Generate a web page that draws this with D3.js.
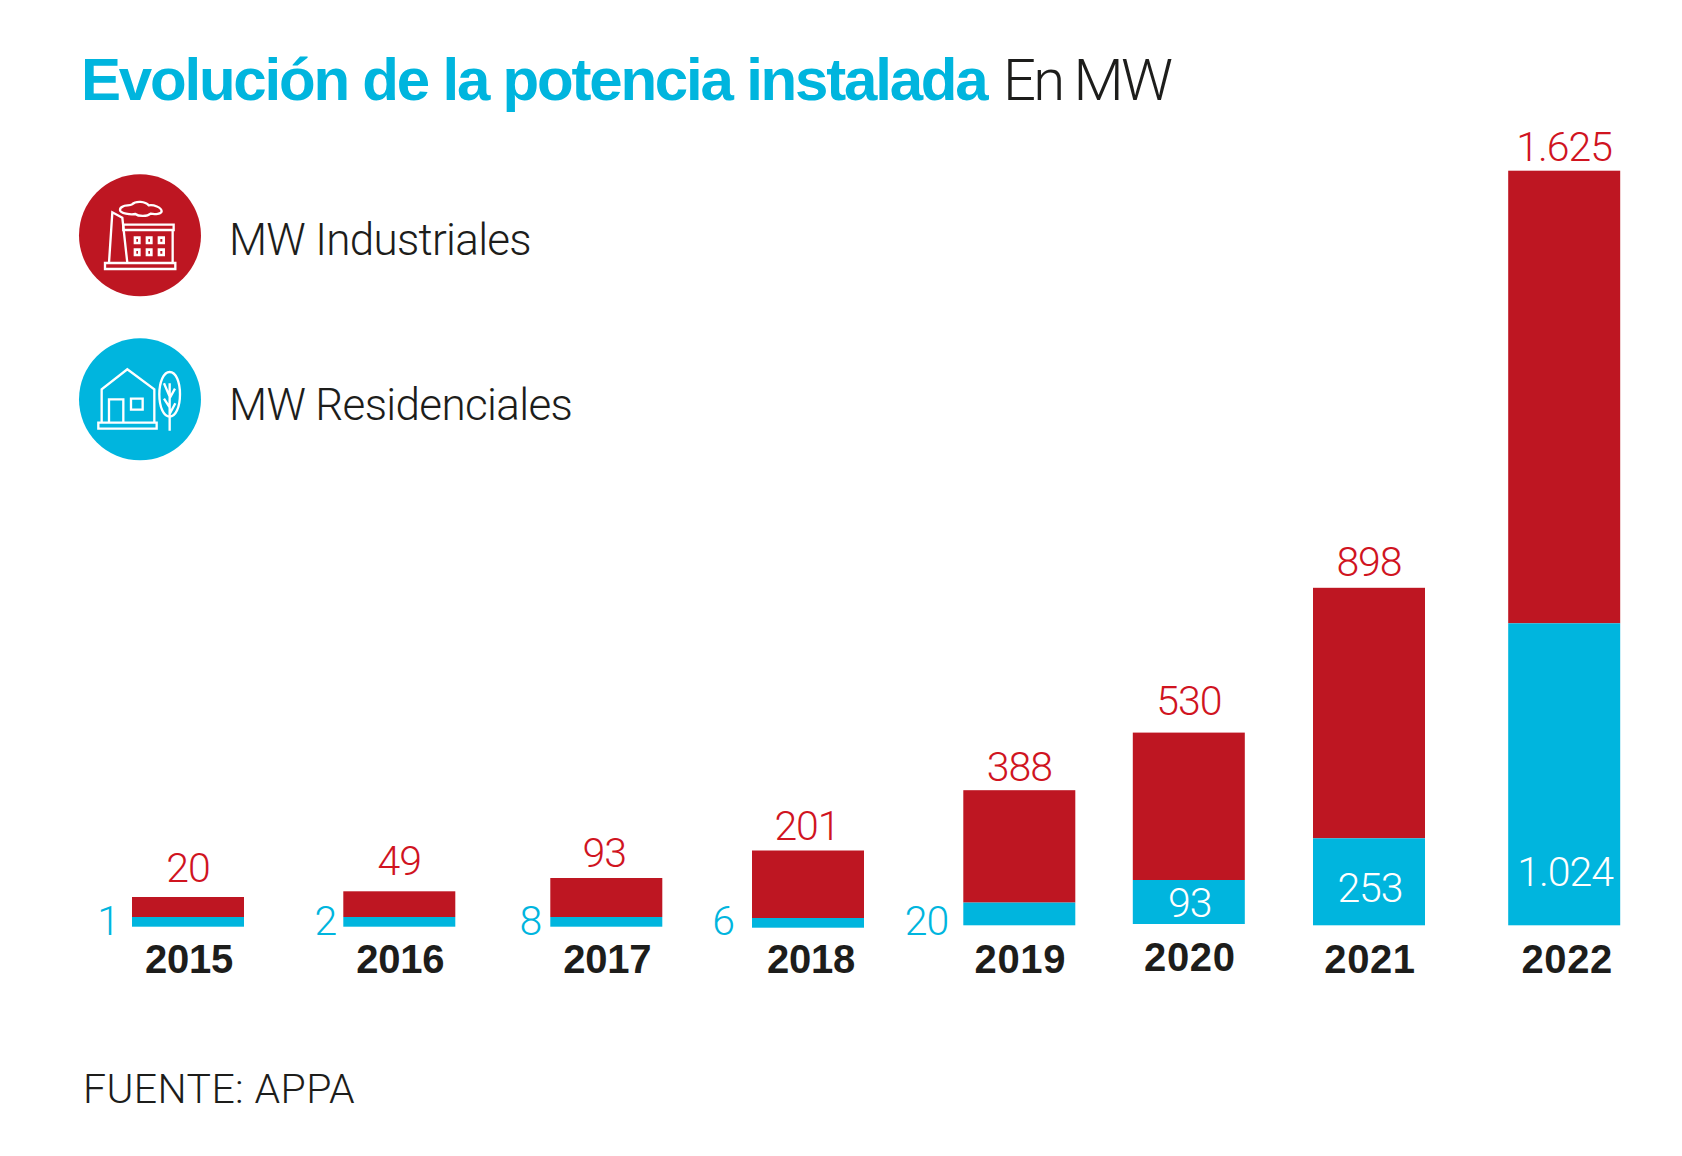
<!DOCTYPE html>
<html>
<head>
<meta charset="utf-8">
<style>
  html, body { margin: 0; padding: 0; background: #fff; }
  text { font-family: "Liberation Sans", sans-serif; }
  .light { font-family: Roboto, "Liberation Sans", sans-serif; font-weight: 300; }
</style>
<script src="https://cdn.jsdelivr.net/npm/d3@7"></script>
</head>
<body>
<div id="chart"></div>
<script>
var years = ["2015", "2016", "2017", "2018", "2019", "2020", "2021", "2022"];
var industriales = [20, 49, 93, 201, 388, 530, 898, 1625];
var residenciales = [1, 2, 8, 6, 20, 93, 253, 1024];
var labelsIndustriales = ["20", "49", "93", "201", "388", "530", "898", "1.625"];
var labelsResidenciales = ["1", "2", "8", "6", "20", "93", "253", "1.024"];

var width = 1682, height = 1156;
var red = "#be1622", blue = "#00b5de", redText = "#d0141f", ink = "#1d1d1b";

var svg = d3.select("#chart").append("svg")
    .attr("width", width)
    .attr("height", height)
    .style("display", "block");

// columns are not evenly spaced in the original, so x is an ordinal scale
var x = d3.scaleOrdinal().domain(years)
    .range([132, 343.3, 550.3, 752, 963.3, 1132.8, 1313, 1508.2]);
var barWidth = 112;

// bars are not linear either: small values were drawn bigger than they should be
var hInd = d3.scaleLinear()
    .domain([20, 49, 93, 201, 388, 530, 898, 1625])
    .range([20, 25.7, 39, 67.5, 112.4, 147.4, 250.5, 452.6]);
var hRes = d3.scaleLinear()
    .domain([1, 8, 20, 93, 253, 1024])
    .range([9.7, 9.7, 22.7, 44, 87, 302]);

var baseline = 926.7;
var nudge = {"2018": 1, "2019": -1.4, "2020": -2.7, "2021": -1.4, "2022": -1.4};
var redGap = {"2015": 15, "2016": 16, "2017": 11, "2018": 11, "2019": 9, "2020": 18, "2021": 12, "2022": 10};
var redShift = {"2017": -2, "2018": -1};
var sideGap = {"2015": 13, "2016": 7, "2017": 9, "2018": 18, "2019": 15};
var insideY = {"2020": 917.3, "2021": 901.7, "2022": 886};
var yearShift = {"2018": 2, "2022": 2};

var rows = years.map(function(y, i) {
  var base = baseline + (nudge[y] || 0);
  return {
    year: y,
    base: base,
    split: base - hRes(residenciales[i]),
    top: base - hRes(residenciales[i]) - hInd(industriales[i]),
    ind: labelsIndustriales[i],
    res: labelsResidenciales[i]
  };
});

// title
svg.append("text")
    .attr("x", 81).attr("y", 100)
    .attr("fill", blue)
    .attr("font-weight", 700)
    .attr("font-size", 60)
    .attr("letter-spacing", -2.2)
    .text("Evolución de la potencia instalada");
svg.append("text")
    .attr("class", "light")
    .attr("x", 1003).attr("y", 100)
    .attr("font-size", 58)
    .attr("fill", ink)
    .attr("letter-spacing", -2.8)
    .text("En MW");

// bars
var bars = svg.append("g").selectAll("g").data(rows).join("g");
bars.append("rect")
    .attr("x", function(d) { return x(d.year); })
    .attr("y", function(d) { return d.top; })
    .attr("width", barWidth)
    .attr("height", function(d) { return d.split - d.top; })
    .attr("fill", red);
bars.append("rect")
    .attr("x", function(d) { return x(d.year); })
    .attr("y", function(d) { return d.split; })
    .attr("width", barWidth)
    .attr("height", function(d) { return d.base - d.split; })
    .attr("fill", blue);

// value labels
bars.append("text")
    .attr("class", "light")
    .attr("x", function(d) { return x(d.year) + barWidth / 2 + (redShift[d.year] || 0); })
    .attr("y", function(d) { return d.top - redGap[d.year]; })
    .attr("text-anchor", "middle")
    .attr("font-size", 41)
    .attr("letter-spacing", -1)
    .attr("fill", redText)
    .text(function(d) { return d.ind; });

bars.append("text")
    .attr("class", "light")
    .attr("x", function(d) {
      if (sideGap[d.year]) return x(d.year) - sideGap[d.year];
      return x(d.year) + barWidth / 2 + 1;
    })
    .attr("y", function(d) { return insideY[d.year] || 935.4; })
    .attr("text-anchor", function(d) { return sideGap[d.year] ? "end" : "middle"; })
    .attr("font-size", 41)
    .attr("letter-spacing", -1)
    .attr("fill", function(d) { return sideGap[d.year] ? blue : "#fff"; })
    .text(function(d) { return d.res; });

// year labels, the last four are set a bit wider in the original
bars.append("text")
    .attr("x", function(d) { return x(d.year) + barWidth / 2 + 1 + (yearShift[d.year] || 0); })
    .attr("y", function(d) { return d.year == "2020" ? 971 : 973.3; })
    .attr("text-anchor", "middle")
    .attr("font-weight", 700)
    .attr("font-size", 40)
    .attr("letter-spacing", function(d) { return +d.year > 2018 ? 0.6 : -0.2; })
    .attr("fill", ink)
    .text(function(d) { return d.year; });

// legend, icon paths measured in crop units (3x), hence the scale
var legend = svg.append("g").attr("transform", "translate(60,150) scale(0.3333)");
function icon(d, sw) {
  return legend.append("path")
      .attr("d", d)
      .attr("fill", "none")
      .attr("stroke", "#fff")
      .attr("stroke-width", sw || 7);
}

legend.append("circle").attr("cx", 240).attr("cy", 256).attr("r", 183).attr("fill", red);
icon("M135 339H346V357H135Z");
icon("M147 339L157 187L187 203L202 339");
icon("M190 224H341V240H190Z");
icon("M338 240V339");
icon("M225 263H238V279H225Z M261 263H274V279H261Z M297 263H311V279H297Z", 8);
icon("M225 299H238V315H225Z M261 299H274V315H261Z M297 299H311V315H297Z", 8);
icon("M188 170C195 164 210 168 216 163C228 152 256 154 266 166C280 163 305 172 305 184C305 192 285 194 272 191C262 200 236 200 226 192C212 195 180 190 180 180C180 176 183 172 188 170Z");

legend.append("circle").attr("cx", 240).attr("cy", 748).attr("r", 183).attr("fill", blue);
icon("M115 818H290V836H115Z");
icon("M125 818V718L202 658L283 718V818");
icon("M147 818V748H190V818");
icon("M213 746H248V779H213Z");
icon("M329 666C348 666 360 696 360 733C360 772 347 800 329 800C311 800 298 772 298 733C298 696 311 666 329 666Z");
icon("M329 700V842 M329 740L312 700 M329 745L345 716 M329 772L312 746 M329 792L346 760");

svg.append("text")
    .attr("class", "light")
    .attr("x", 229).attr("y", 255)
    .attr("font-size", 44)
    .attr("fill", ink)
    .attr("letter-spacing", -0.7)
    .text("MW Industriales");
svg.append("text")
    .attr("class", "light")
    .attr("x", 229).attr("y", 420)
    .attr("font-size", 44)
    .attr("fill", ink)
    .attr("letter-spacing", -0.65)
    .text("MW Residenciales");

svg.append("text")
    .attr("class", "light")
    .attr("x", 83).attr("y", 1102.7)
    .attr("font-size", 41)
    .attr("fill", ink)
    .attr("letter-spacing", 0.4)
    .text("FUENTE: APPA");
</script>
</body>
</html>
